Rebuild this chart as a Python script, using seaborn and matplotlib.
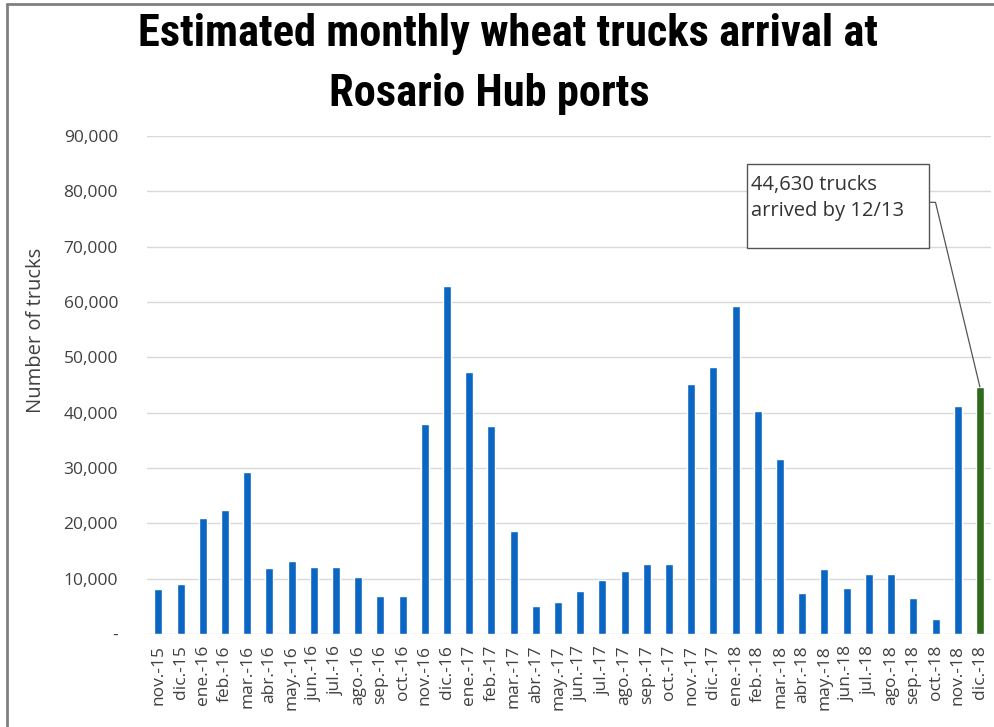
import matplotlib
matplotlib.use("Agg")
import matplotlib.pyplot as plt
import matplotlib.ticker as mticker
from matplotlib.patches import Rectangle
from matplotlib.lines import Line2D
from matplotlib import font_manager
import seaborn as sns
import pandas as pd

# Monthly truck arrivals
months = ["nov.-15", "dic.-15", "ene.-16", "feb.-16", "mar.-16", "abr.-16", "may.-16",
          "jun.-16", "jul.-16", "ago.-16", "sep.-16", "oct.-16", "nov.-16", "dic.-16",
          "ene.-17", "feb.-17", "mar.-17", "abr.-17", "may.-17", "jun.-17", "jul.-17",
          "ago.-17", "sep.-17", "oct.-17", "nov.-17", "dic.-17", "ene.-18", "feb.-18",
          "mar.-18", "abr.-18", "may.-18", "jun.-18", "jul.-18", "ago.-18", "sep.-18",
          "oct.-18", "nov.-18", "dic.-18"]
trucks = [8100, 9000, 21000, 22400, 29300, 11900, 13200,
          12100, 12100, 10300, 6900, 6900, 38000, 62900,
          47400, 37600, 18600, 5100, 5800, 7800, 9800,
          11400, 12700, 12700, 45200, 48300, 59300, 40300,
          31600, 7400, 11800, 8300, 10800, 10800, 6500,
          2700, 41200, 44630]
status = ["complete"] * (len(months) - 1) + ["partial"]

df = pd.DataFrame({"month": months, "trucks": trucks, "status": status})

BLUE = "#0A66C2"
GREEN = "#2F6A1C"
TXT = "#404040"

sns.set_theme(style="white")
plt.rcParams["font.family"] = ["Open Sans", "DejaVu Sans"]

# pick a narrow bold face for the title if one is installed
names = {f.name for f in font_manager.fontManager.ttflist}
narrow = [n for n in ["Roboto Condensed", "Liberation Sans Narrow", "DejaVu Sans Condensed",
                      "Open Sans Condensed"] if n in names]
if narrow:
    title_font = dict(family=[narrow[0], "DejaVu Sans"], fontsize=32)
else:
    title_font = dict(family=["DejaVu Sans"], fontsize=24, fontstretch="condensed")

fig = plt.figure(figsize=(9.95, 7.27), dpi=100)
ax = fig.add_axes([0.148, 0.128, 0.848, 0.685])

sns.barplot(data=df, x="month", y="trucks", hue="status",
            palette={"complete": BLUE, "partial": GREEN},
            dodge=False, width=0.36, legend=False, ax=ax, saturation=1)

ax.set_ylim(0, 90000)
ax.set_xlim(-0.5, len(months) - 0.5)
ax.yaxis.set_major_locator(mticker.MultipleLocator(10000))
ax.yaxis.set_major_formatter(mticker.FuncFormatter(
    lambda v, p: "-" if v == 0 else f"{int(v):,}"))
ax.grid(axis="y", color="#D9D9D9", linewidth=1)
ax.set_axisbelow(True)
for s in ax.spines.values():
    s.set_visible(False)
ax.tick_params(axis="both", length=0, labelsize=12.5, labelcolor=TXT)
ax.tick_params(axis="y", pad=21)
ax.tick_params(axis="x", pad=8)
plt.setp(ax.get_xticklabels(), rotation=90)
ax.set_xlabel("")
ax.set_ylabel("Number of trucks", fontsize=14.5, color=TXT)
ax.yaxis.set_label_coords(-0.12, 0.61)

# title
fig.text(0.511, 0.953, "Estimated monthly wheat trucks arrival at",
         ha="center", va="center", fontweight="bold", color="black", **title_font)
fig.text(0.492, 0.871, "Rosario Hub ports",
         ha="center", va="center", fontweight="bold", color="black", **title_font)

# callout for the partial month
last = len(months) - 1
box_x0, box_x1 = 26.5, 34.7
box_y0, box_y1 = 69800, 85000
ax.add_patch(Rectangle((box_x0, box_y0), box_x1 - box_x0, box_y1 - box_y0,
                       facecolor="white", edgecolor="#555555", linewidth=1, zorder=5))
ax.text(box_x0 + 0.2, box_y1 - 2000, f"{trucks[-1]:,} trucks\narrived by 12/13",
        ha="left", va="top", fontsize=14.5, color="#333333", linespacing=1.45, zorder=6)
ax.add_line(Line2D([box_x1, box_x1 + 0.3, last], [78000, 78000, trucks[-1]],
                   color="#555555", linewidth=0.9, zorder=4))

# outer frame like the screenshot
fig.add_artist(Line2D([0.007, 0.007], [0, 0.995], transform=fig.transFigure,
                      color="#808080", linewidth=2))
fig.add_artist(Line2D([0.007, 1], [0.995, 0.995], transform=fig.transFigure,
                      color="#808080", linewidth=2))

fig.savefig("out.png", dpi=100)
